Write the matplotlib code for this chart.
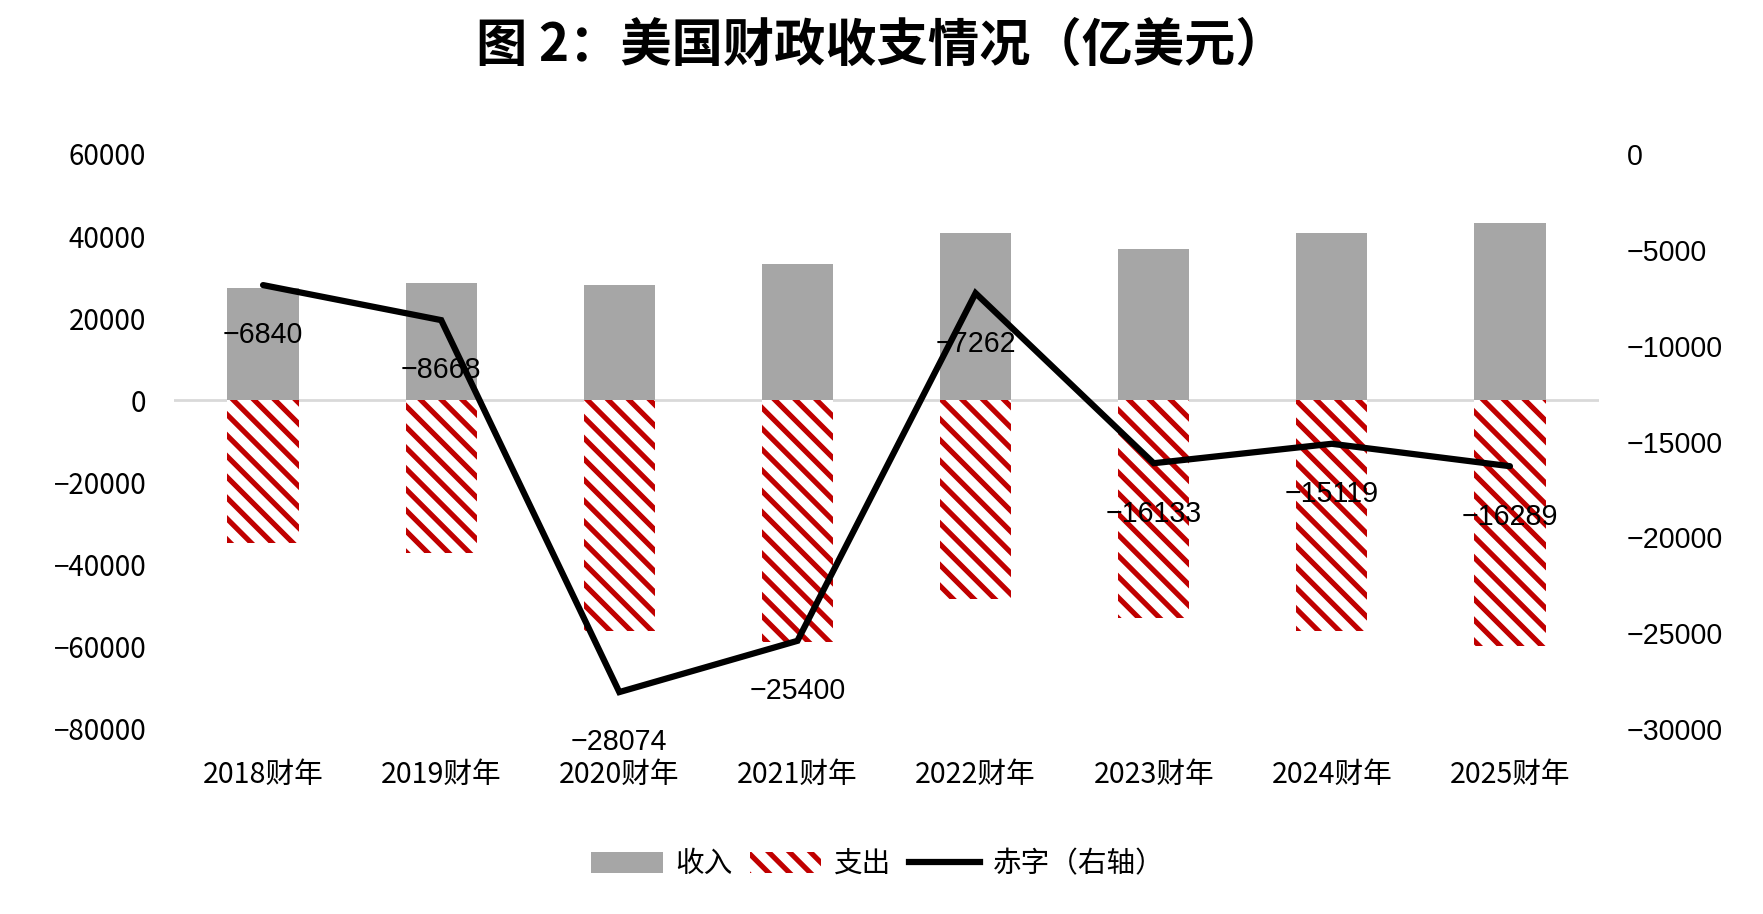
import matplotlib
matplotlib.use("Agg")
import matplotlib.pyplot as plt
import numpy as np
from matplotlib.patches import Patch
from matplotlib.lines import Line2D

plt.rcParams['font.family'] = ['Noto Sans CJK SC', 'DejaVu Sans']
plt.rcParams['hatch.color'] = '#C00000'
plt.rcParams['hatch.linewidth'] = 3.0
plt.rcParams['axes.unicode_minus'] = True

categories = ['2018财年', '2019财年', '2020财年', '2021财年', '2022财年', '2023财年', '2024财年', '2025财年']
revenue = [27400, 28600, 28100, 33100, 40800, 36900, 40800, 43200]
spending = [-34600, -37200, -56100, -58700, -48400, -53000, -56100, -59900]
deficit = [-6840, -8668, -28074, -25400, -7262, -16133, -15119, -16289]
deficit_labels = ['−6840', '−8668', '−28074', '−25400', '−7262', '−16133', '−15119', '−16289']
left_ticks = [60000, 40000, 20000, 0, -20000, -40000, -60000, -80000]
right_ticks = [0, -5000, -10000, -15000, -20000, -25000, -30000]

W, H, DPI = 1763, 914, 125
fig = plt.figure(figsize=(W / DPI, H / DPI), dpi=DPI)
ax = fig.add_axes([174 / W, 1 - 729 / H, (1599 - 174) / W, (729 - 154) / H])
ax2 = ax.twinx()

x = np.arange(len(categories))
bw = 0.4
ax.bar(x, revenue, width=bw, color='#A6A6A6', zorder=2)
ax.bar(x, spending, width=bw, facecolor='white', edgecolor='#C00000',
       linewidth=0, hatch='\\\\', zorder=2)
ax.axhline(0, color='#D9D9D9', lw=1.6, zorder=1)

ax.set_xlim(-0.5, len(categories) - 0.5)
ax.set_ylim(-80000, 60000)
ax.set_yticks(left_ticks)
ax.set_xticks(x)
ax.set_xticklabels(categories, fontsize=16.5)
ax.tick_params(axis='x', length=0, pad=18)
ax.tick_params(axis='y', length=0, pad=16, labelsize=16)
for s in ax.spines.values():
    s.set_visible(False)

ax2.plot(x, deficit, color='black', lw=3.6, solid_joinstyle='miter',
         solid_capstyle='round', zorder=3)
ax2.set_ylim(-30000, 0)
ax2.set_yticks(right_ticks)
ax2.tick_params(axis='y', length=0, pad=16)
for lab in ax2.get_yticklabels():
    lab.set_fontfamily(['Liberation Sans', 'DejaVu Sans'])
    lab.set_fontsize(16.5)
for s in ax2.spines.values():
    s.set_visible(False)

for xi, v, t in zip(x, deficit, deficit_labels):
    ax2.annotate(t, (xi, v), xytext=(0, -29), textcoords='offset points',
                 ha='center', va='center', fontsize=16.5,
                 family=['Liberation Sans', 'DejaVu Sans'], zorder=5)

fig.text(0.5, 1 - 45 / H, '图 2：美国财政收支情况（亿美元）', ha='center', va='center',
         fontsize=29.5, fontweight='bold')

handles = [Patch(facecolor='#A6A6A6', edgecolor='none'),
           Patch(facecolor='white', edgecolor='#C00000', linewidth=0, hatch='\\\\'),
           Line2D([0], [0], color='black', lw=3.6)]
fig.legend(handles, ['收入', '支出', '赤字（右轴）'], loc='center',
           bbox_to_anchor=(0.498, 1 - 864 / H), ncol=3, frameon=False,
           fontsize=16.5, handlelength=2.5, handleheight=0.75,
           handletextpad=0.45, columnspacing=0.6)

fig.savefig('out.png', dpi=DPI)
